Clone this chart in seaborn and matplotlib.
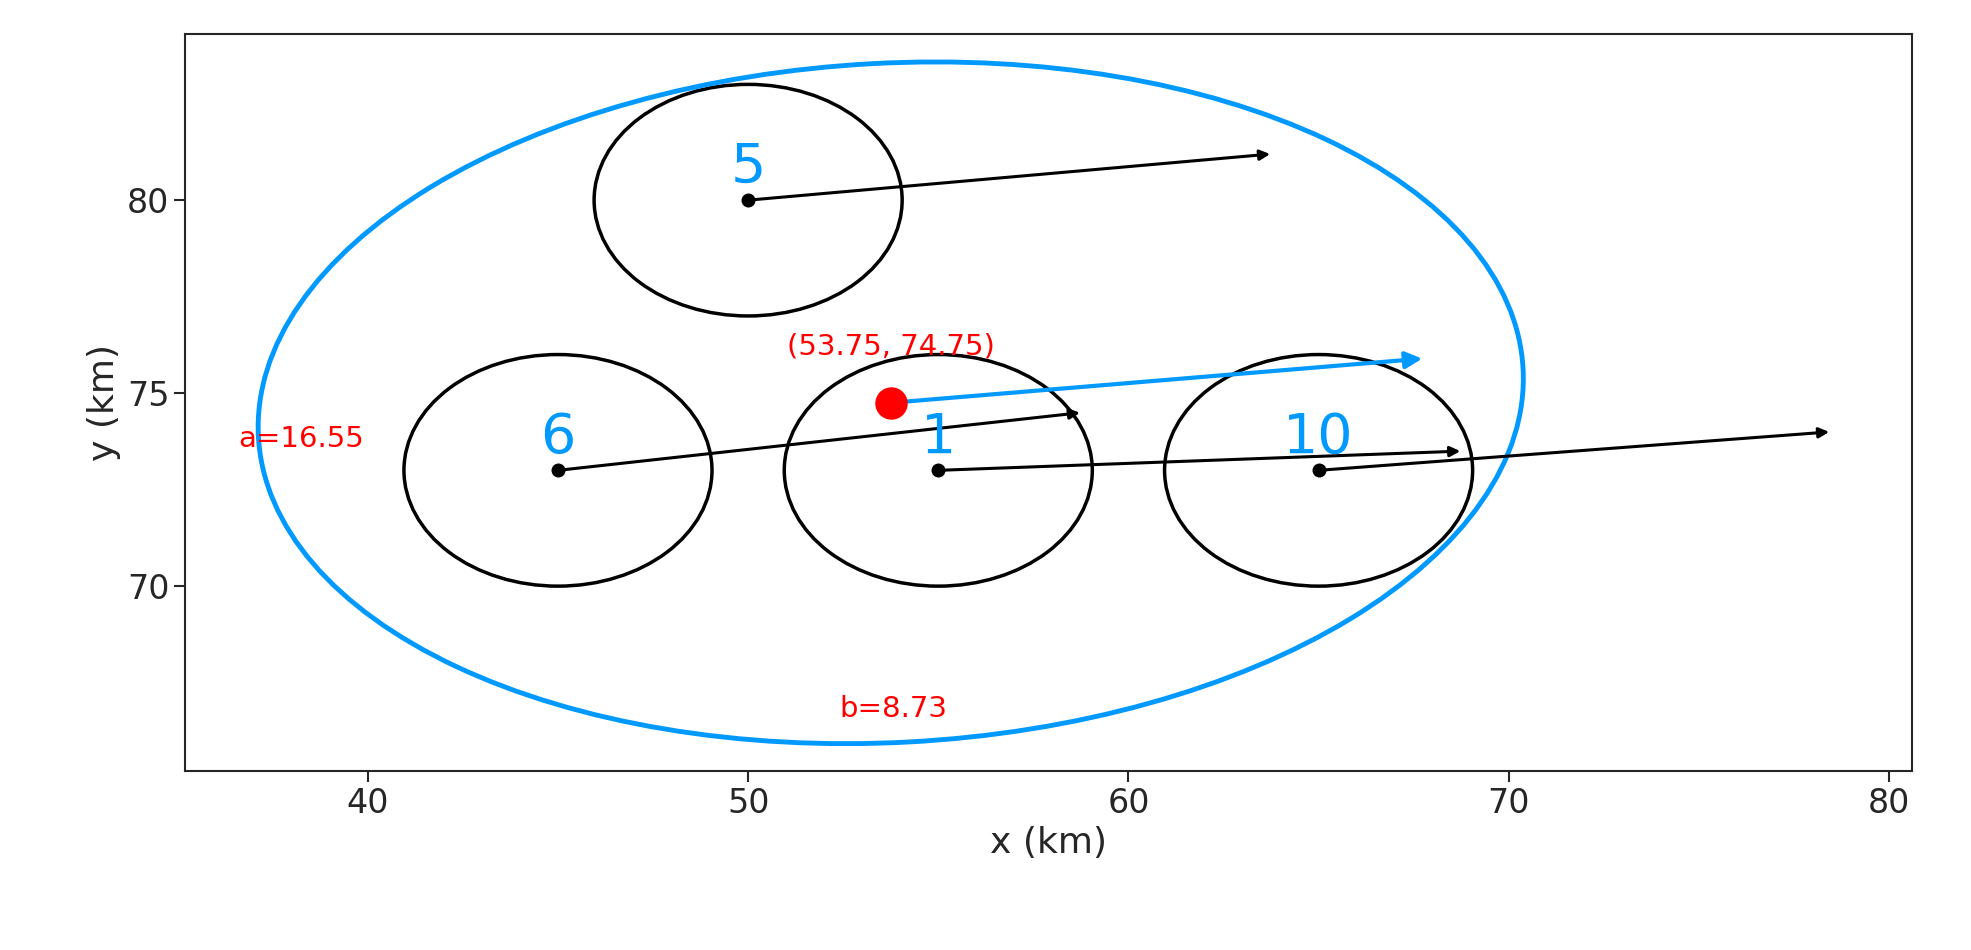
import matplotlib.pyplot as plt
import seaborn as sns
from matplotlib.patches import Ellipse

sns.set_style("ticks")

# point positions and labels
ids = ["5", "6", "1", "10"]
px = [50, 45, 55, 65]
py = [80, 73, 73, 73]
# arrow tips
tx = [63.8, 58.8, 68.8, 78.5]
ty = [81.2, 74.5, 73.5, 74.0]

center = (53.75, 74.75)
center_tip = (67.8, 75.9)
a_len = 16.55
b_len = 8.73

fig = plt.figure(figsize=(19.71, 9.5), dpi=100)
ax = fig.add_axes([0.094, 0.188, 0.876, 0.776])

for x, y in zip(px, py):
    ax.add_patch(Ellipse((x, y), 8.1, 6.0, fill=False, ec="black", lw=2.5))
sns.scatterplot(x=px, y=py, ax=ax, color="black", s=120, zorder=3, legend=False)
for x, y, x2, y2 in zip(px, py, tx, ty):
    ax.annotate("", xy=(x2, y2), xytext=(x, y),
                arrowprops=dict(arrowstyle="-|>", color="black", lw=2.2, mutation_scale=15))
for lab, x, y in zip(ids, px, py):
    ax.text(x, y + 0.15, lab, color="#0099ff", fontsize=40, ha="center", va="bottom")

ax.add_patch(Ellipse(center, 2 * 16.65, 2 * 8.8, angle=3, fill=False, ec="#0099ff", lw=3.5))
ax.scatter([center[0]], [center[1]], color="red", s=500, zorder=4)
ax.annotate("", xy=center_tip, xytext=center,
            arrowprops=dict(arrowstyle="-|>", color="#0099ff", lw=3, mutation_scale=25))
ax.text(center[0], 76.0, f"({center[0]}, {center[1]})", color="red", fontsize=21, ha="center")
ax.text(36.6, 73.6, f"a={a_len}", color="red", fontsize=21)
ax.text(52.4, 66.6, f"b={b_len}", color="red", fontsize=21)

ax.set_xlim(35.2, 80.6)
ax.set_ylim(65.2, 84.3)
ax.set_xticks([40, 50, 60, 70, 80])
ax.set_yticks([70, 75, 80])
ax.tick_params(labelsize=24, length=8, width=1.5)
for s in ax.spines.values():
    s.set_visible(True)
    s.set_linewidth(1.5)
ax.set_xlabel("x (km)", fontsize=26)
ax.set_ylabel("y (km)", fontsize=26)

fig.savefig("out.png", dpi=100)
